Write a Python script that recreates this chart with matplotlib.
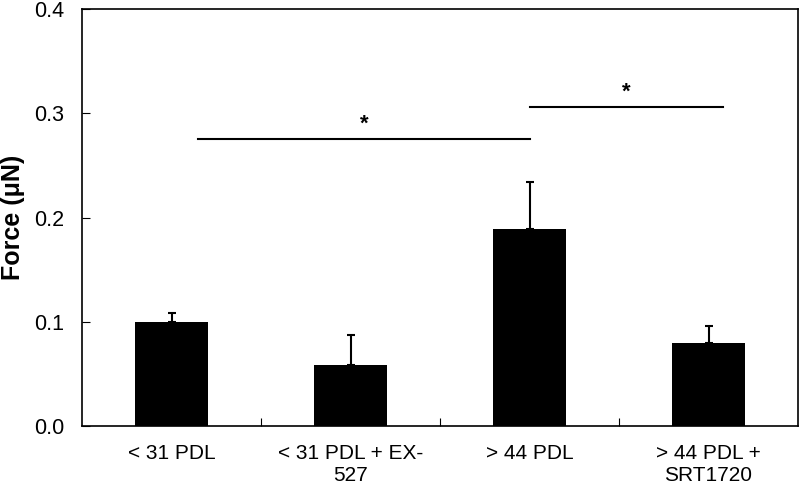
import numpy as np
import matplotlib.pyplot as plt

plt.rcParams['font.family'] = ['Liberation Sans', 'DejaVu Sans']

# Data
groups = ['< 31 PDL', '< 31 PDL + EX-\n527', '> 44 PDL', '> 44 PDL +\nSRT1720']
force = [0.100, 0.059, 0.189, 0.080]
err = [0.008, 0.028, 0.045, 0.016]

# significance brackets: (start group, end group, height)
sig_pairs = [(0.15, 2.0, 0.275), (2.0, 3.08, 0.306)]

fig = plt.figure(figsize=(8, 4.88), dpi=100)
ax = fig.add_axes([0.1025, 0.127, 0.895, 0.8546])

x = np.arange(len(groups))
ax.bar(x, force, width=0.41, color='black')
ax.errorbar(x, force, yerr=[np.zeros(len(err)), err], fmt='none',
            ecolor='black', elinewidth=1.5, capsize=3, capthick=1.5)

for x0, x1, h in sig_pairs:
    ax.plot([x0, x1], [h, h], color='black', lw=1.5)
    ax.text((x0 + x1) / 2, h + 0.004, '*', ha='center', va='bottom',
            fontsize=16, fontweight='bold')

ax.set_xlim(-0.5, 3.5)
ax.set_ylim(0, 0.4)
ax.set_yticks([0.0, 0.1, 0.2, 0.3, 0.4])
ax.set_yticklabels(['0.0', '0.1', '0.2', '0.3', '0.4'], fontsize=15.5)
ax.tick_params(axis='y', direction='in', length=6, pad=13)

# category labels between ticks at the group boundaries
ax.set_xticks([0.5, 1.5, 2.5])
ax.set_xticklabels([])
ax.tick_params(axis='x', direction='in', length=6)
ax.set_xticks(x, minor=True)
ax.set_xticklabels(groups, minor=True, fontsize=15)
ax.tick_params(axis='x', which='minor', length=0, pad=13)

ax.set_ylabel('Force (\u03bcN)', fontsize=18, fontweight='bold')
ax.yaxis.set_label_coords(-0.079, 0.5)

for s in ax.spines.values():
    s.set_linewidth(1.2)

fig.savefig('out.png', dpi=100)
